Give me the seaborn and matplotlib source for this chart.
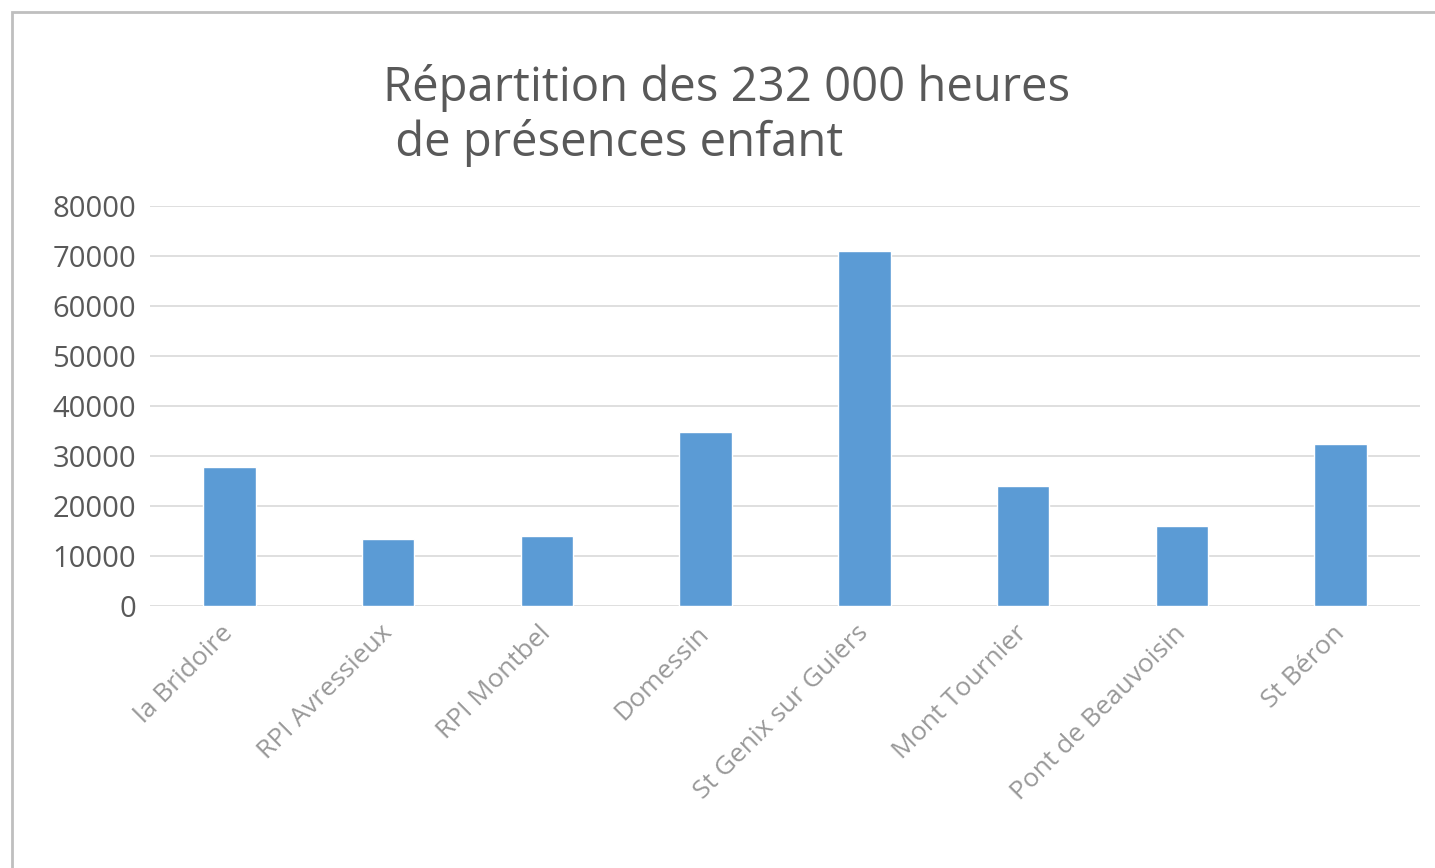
import matplotlib.pyplot as plt
import matplotlib.patches as mpatches
import pandas as pd
import seaborn as sns

sites = ["la Bridoire", "RPI Avressieux", "RPI Montbel", "Domessin",
         "St Genix sur Guiers", "Mont Tournier", "Pont de Beauvoisin", "St Béron"]
heures = [27800, 13400, 14000, 34800, 71000, 24000, 16000, 32400]
y_ticks = [0, 10000, 20000, 30000, 40000, 50000, 60000, 70000, 80000]

df = pd.DataFrame({"site": sites, "heures": heures})

sns.set_theme(style="white")
plt.rcParams['font.family'] = ['Open Sans', 'DejaVu Sans']

W, H = 1435, 868
fig = plt.figure(figsize=(W / 100, H / 100), dpi=100)
ax = fig.add_axes([150 / W, 1 - 606 / H, 1270 / W, 400 / H])

sns.barplot(data=df, x="site", y="heures", color="#5b9bd5", width=0.33,
            saturation=1, ax=ax)

ax.set_ylim(0, 80000)
ax.set_yticks(y_ticks)
ax.set_yticklabels([str(v) for v in y_ticks], fontsize=21, color="#595959")
ax.set_xticks(range(len(sites)))
ax.set_xticklabels(sites, rotation=45, ha="right", va="center",
                   rotation_mode="anchor", fontsize=19, color="#999999")
ax.tick_params(axis="x", length=0, pad=17)
ax.tick_params(axis="y", length=0, pad=10)
ax.set_xlabel("")
ax.set_ylabel("")
ax.yaxis.grid(True, color="#d9d9d9", linewidth=1.2)
ax.set_axisbelow(True)
for s in ax.spines.values():
    s.set_visible(False)

fig.text(383 / W, 1 - 64 / H, "Répartition des 232 000 heures\n de présences enfant",
         ha="left", va="top", fontsize=34, color="#595959", linespacing=1.18)

# outer chart border
fig.patches.append(mpatches.Rectangle((12 / W, -0.05), 1.1, 1 - 12 / H + 0.05,
                                      transform=fig.transFigure, fill=False,
                                      edgecolor="#bfbfbf", linewidth=2))

fig.savefig("out.png", dpi=100)
